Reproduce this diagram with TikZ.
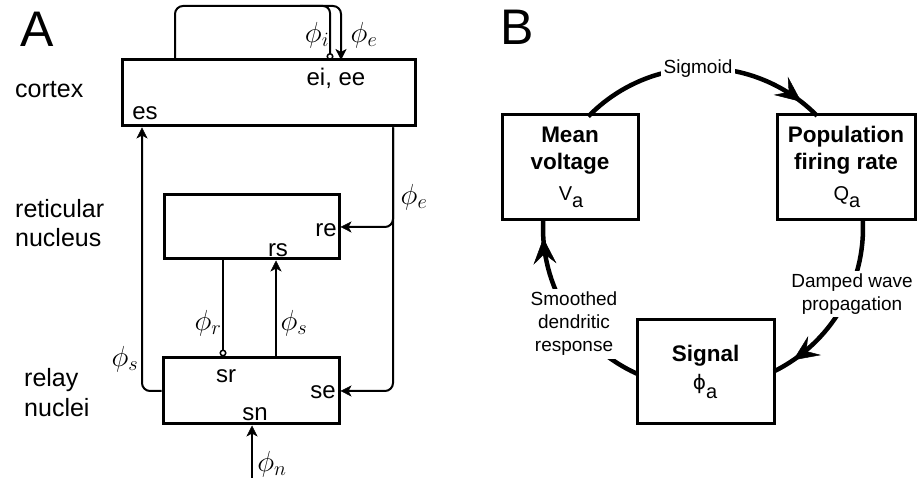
\RequirePackage{fix-cm}
\documentclass[tikz,border=0pt]{standalone}
\usepackage{fontspec}
\setmainfont{Liberation Sans}
\newfontfamily\djv{DejaVu Sans}
\usetikzlibrary{arrows.meta,calc,decorations.markings}
\tikzset{
  tipA/.tip={Stealth[length=11pt,width=11pt,inset=3pt,line width=0.5pt]},
  tipI/.tip={Circle[open,length=7pt,width=7pt,line width=1.5pt]},
  tipB/.tip={Stealth[length=26pt,width=23pt,inset=10pt,line width=0.5pt]},
  boxa/.style={draw,line width=3pt,inner sep=0pt},
  boxb/.style={draw,line width=3pt,inner sep=0pt,minimum width=136pt,minimum height=105pt},
  conn/.style={line width=2pt},
  arcb/.style={line width=4.5pt},
  lab/.style={inner sep=0pt,font=\fontsize{24}{28}\selectfont},
  side/.style={inner sep=0pt,font=\fontsize{25}{29}\selectfont},
  big/.style={inner sep=0pt,font=\fontsize{50}{56}\selectfont},
  phil/.style={inner sep=0pt,font=\fontsize{29}{32}\selectfont},
  boldt/.style={inner sep=0pt,font=\fontsize{22.5}{27}\selectfont\bfseries},
  symt/.style={inner sep=0pt,font=\fontsize{20}{24}\selectfont},
  arclab/.style={fill=white,inner sep=3pt,align=center,font=\fontsize{19}{23}\selectfont},
}
\begin{document}
\begin{tikzpicture}[x=1pt,y=1pt]
\useasboundingbox (0,0) rectangle (923,478);
% ---------------- Panel A ----------------
\node[big,anchor=base west] (pA) at (20,431) {A};
\node[boxa,minimum width=293pt,minimum height=66pt] (cortex) at (268.5,385) {};
\node[boxa,minimum width=175pt,minimum height=64pt] (retic) at (251.5,251) {};
\node[boxa,minimum width=176pt,minimum height=66pt] (relay) at (251,87) {};

\node[side,anchor=base west] (lcortex) at (15,380) {cortex};
\node[side,anchor=base west] (lret1) at (15,260) {reticular};
\node[side,anchor=base west] (lret2) at (15,231) {nucleus};
\node[side,anchor=base west] (lrel1) at (24,91) {relay};
\node[side,anchor=base west] (lrel2) at (24,61) {nuclei};

\node[lab,anchor=base] (eiee) at (336,392) {ei, ee};
\node[lab,anchor=base] (es) at (145,358) {es};
\node[lab,anchor=base] (re) at (326,241) {re};
\node[lab,anchor=base] (rs) at (278,221) {rs};
\node[lab,anchor=base] (sr) at (226,95) {sr};
\node[lab,anchor=base] (se) at (323,79) {se};
\node[lab,anchor=base] (sn) at (255,57) {sn};

\coordinate (loopL) at (175,418);
\coordinate (topY) at (0,472);
\coordinate (branch) at (300,472);
\coordinate (eeIn) at (341,418);
\coordinate (eiIn) at (330,418);
\coordinate (xes) at (142,0);
\coordinate (xe) at (393,0);
\coordinate (xr) at (223,0);
\coordinate (xs) at (276,0);
\coordinate (nsrc) at (252,0);

\draw[conn,rounded corners=8pt,-{tipA}] (loopL) |- (eeIn |- topY) -- (eeIn);
\draw[conn,rounded corners=7pt,-{tipI}] (branch) -| (eiIn);
\draw[conn,rounded corners=8pt,-{tipA}] (relay.west) -| (xes |- cortex.south);
\draw[conn,rounded corners=8pt,-{tipA}] (xe |- cortex.south) |- (retic.east);
\draw[conn,rounded corners=8pt,-{tipA}] (xe |- cortex.south) |- (relay.east);
\draw[conn,-{tipI}] (xr |- retic.south) -- (xr |- relay.north);
\draw[conn,-{tipA}] (xs |- relay.north) -- (xs |- retic.south);
\draw[conn,-{tipA}] (nsrc) -- (nsrc |- relay.south);

\node[phil] (phii) at (317,443) {$\phi_i$};
\node[phil] (phie1) at (364,443) {$\phi_e$};
\node[phil] (phie2) at (414,281) {$\phi_e$};
\node[phil] (phis1) at (125,119) {$\phi_s$};
\node[phil] (phir) at (208,155) {$\phi_r$};
\node[phil] (phis2) at (294,155) {$\phi_s$};
\node[phil] (phin) at (272,14) {$\phi_n$};

% ---------------- Panel B ----------------
\node[big,anchor=base west] (pB) at (500,433) {B};
\coordinate (cc) at (703,250);

\draw[arcb,decoration={markings,mark=at position 0.917 with {\arrow{tipB}}},postaction={decorate}]
  ($(cc)+(135.8:160pt)$) arc[start angle=135.8,end angle=44.5,radius=160pt];
\draw[arcb,decoration={markings,mark=at position 0.88 with {\arrow{tipB}}},postaction={decorate}]
  ($(cc)+(2.8:160pt)$) arc[start angle=2.8,end angle=-63.7,radius=160pt];
\draw[arcb,decoration={markings,mark=at position 0.905 with {\arrow{tipB}}},postaction={decorate}]
  ($(cc)+(-114.4:160pt)$) arc[start angle=-114.4,end angle=-182.9,radius=160pt];

\node[arclab] (lsig) at (698,409) {Sigmoid};
\node[arclab] (ldamp) at (852,184) {Damped wave\\propagation};
\node[arclab] (lsmo) at (574,154) {Smoothed\\dendritic\\response};

\node[boxb] (mv) at (570,310.5) {};
\node[boxb,minimum width=138pt] (pf) at (846,310.5) {};
\node[boxb,minimum width=137pt,minimum height=104pt] (sg) at (705.5,106) {};

\node[boldt,anchor=base] (mv1) at (570,335) {Mean};
\node[boldt,anchor=base] (mv2) at (570,308) {voltage};
\node[symt,anchor=base] (mv3) at (571,277) {V\raisebox{-7pt}{a}};
\node[boldt,anchor=base] (pf1) at (846,335) {Population};
\node[boldt,anchor=base] (pf2) at (846,308) {firing rate};
\node[symt,anchor=base] (pf3) at (847,277) {Q\raisebox{-7pt}{a}};
\node[boldt,anchor=base] (sg1) at (705.5,116) {Signal};
\node[symt,anchor=base] (sg2) at (705,88) {{\djv ϕ}\raisebox{-9pt}{a}};
\end{tikzpicture}
\end{document}
